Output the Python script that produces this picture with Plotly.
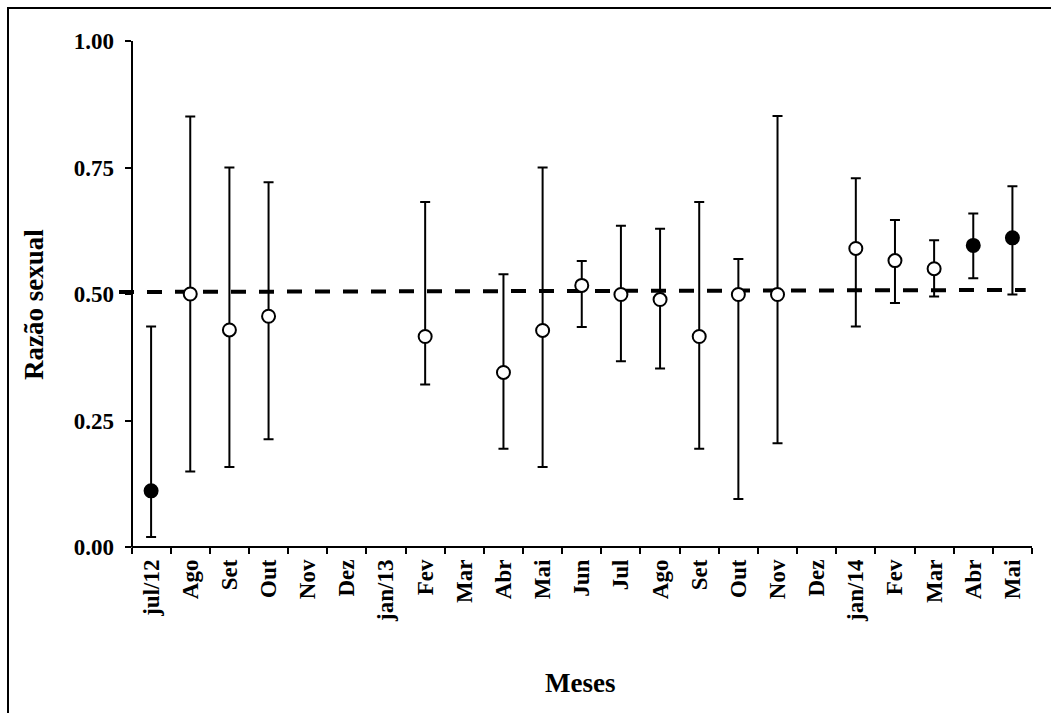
import plotly.graph_objects as go

# Monthly sex ratio (proportion of males) with confidence limits
months = ["jul/12", "Ago", "Set", "Out", "Nov", "Dez", "jan/13", "Fev", "Mar", "Abr",
          "Mai", "Jun", "Jul", "Ago", "Set", "Out", "Nov", "Dez", "jan/14", "Fev",
          "Mar", "Abr", "Mai"]
ratio = [0.111, 0.500, 0.429, 0.456, None, None, None, 0.416, None, 0.345,
         0.428, 0.517, 0.499, 0.489, 0.416, 0.499, 0.499, None, 0.590, 0.566,
         0.550, 0.596, 0.611]
upper = [0.436, 0.851, 0.750, 0.721, None, None, None, 0.682, None, 0.539,
         0.750, 0.565, 0.635, 0.629, 0.682, 0.569, 0.852, None, 0.729, 0.646,
         0.606, 0.659, 0.713]
lower = [0.020, 0.149, 0.158, 0.213, None, None, None, 0.321, None, 0.194,
         0.158, 0.435, 0.367, 0.353, 0.194, 0.095, 0.205, None, 0.436, 0.482,
         0.495, 0.531, 0.499]
# months whose ratio differs significantly from 1:1
significant = [True, False, False, False, False, False, False, False, False, False,
               False, False, False, False, False, False, False, False, False, False,
               False, True, True]

# linear trend of the ratio across the sampling period
trend_x = [-0.82, 22.34]
trend_y = [0.504, 0.508]

y_ticks = [0.0, 0.25, 0.5, 0.75, 1.0]
y_tick_text = ["0.00", "0.25", "0.50", "0.75", "1.00"]

FONT = "Liberation Serif, Times New Roman, serif"
TICK_SIZE = 23
TITLE_SIZE = 27

W, H = 1051, 713
ML, MR, MT, MB = 119, 19, 41, 166
X_RANGE = [-0.82, 22.5]
plot_w = W - ML - MR
plot_h = H - MT - MB

idx = list(range(len(months)))
err_plus = [None if r is None else u - r for r, u in zip(ratio, upper)]
err_minus = [None if r is None else r - l for r, l in zip(ratio, lower)]

fig = go.Figure()

fig.add_trace(go.Scatter(
    x=trend_x, y=trend_y, mode="lines",
    line=dict(color="black", width=4, dash="15px,13px"),
    hoverinfo="skip", showlegend=False,
))

fig.add_trace(go.Scatter(
    x=idx, y=ratio, mode="markers",
    marker=dict(
        size=13,
        color=["black" if s else "white" for s in significant],
        line=dict(color="black", width=2),
    ),
    error_y=dict(type="data", symmetric=False, array=err_plus, arrayminus=err_minus,
                 color="black", thickness=2, width=5),
    showlegend=False,
))

# position of the y axis at the left boundary of the first month
y_axis_pos = (-0.5 - X_RANGE[0]) / (X_RANGE[1] - X_RANGE[0])

fig.update_layout(
    width=W, height=H,
    margin=dict(l=ML, r=MR, t=MT, b=MB),
    paper_bgcolor="white", plot_bgcolor="white",
    font=dict(family=FONT, color="black"),
    xaxis=dict(
        range=X_RANGE, showgrid=False, zeroline=False, showline=False,
        tickmode="array", tickvals=idx, ticktext=months, ticks="",
        tickangle=-90, ticklabelstandoff=7,
        tickfont=dict(family=FONT, size=TICK_SIZE, weight="bold", color="black"),
        minor=dict(tickmode="array", tickvals=[i - 0.5 for i in range(len(months) + 1)],
                   ticks="outside", ticklen=6, tickwidth=2, tickcolor="black",
                   showgrid=False),
    ),
    yaxis=dict(
        range=[0, 1], showgrid=False, zeroline=False,
        showline=True, linecolor="black", linewidth=2,
        anchor="free", position=y_axis_pos,
        tickmode="array", tickvals=y_ticks, ticktext=y_tick_text,
        ticks="outside", ticklen=6, tickwidth=2, tickcolor="black",
        ticklabelstandoff=6,
        tickfont=dict(family=FONT, size=TICK_SIZE, weight="bold", color="black"),
    ),
    shapes=[
        # x axis line from the first to the last month boundary
        dict(type="line", xref="x", yref="y domain", x0=-0.5, x1=len(months) - 0.5,
             y0=0, y1=0, line=dict(color="black", width=2)),
        # outer frame
        dict(type="rect", xref="paper", yref="paper",
             x0=(8 - ML) / plot_w, x1=(W + 10 - ML) / plot_w,
             y0=-(H + 10 - MT - plot_h) / plot_h, y1=(H - MB - 8) / plot_h,
             line=dict(color="black", width=2), layer="below"),
    ],
    annotations=[
        dict(text="Razão sexual", xref="paper", yref="paper",
             x=(34 - ML) / plot_w, y=(H - MB - 305) / plot_h,
             xanchor="center", yanchor="middle", textangle=-90, showarrow=False,
             font=dict(family=FONT, size=TITLE_SIZE, weight="bold", color="black")),
        dict(text="Meses", xref="paper", yref="paper",
             x=(580 - ML) / plot_w, y=-(683 - MT - plot_h) / plot_h,
             xanchor="center", yanchor="middle", showarrow=False,
             font=dict(family=FONT, size=TITLE_SIZE, weight="bold", color="black")),
    ],
)

fig.write_html("out.html")
